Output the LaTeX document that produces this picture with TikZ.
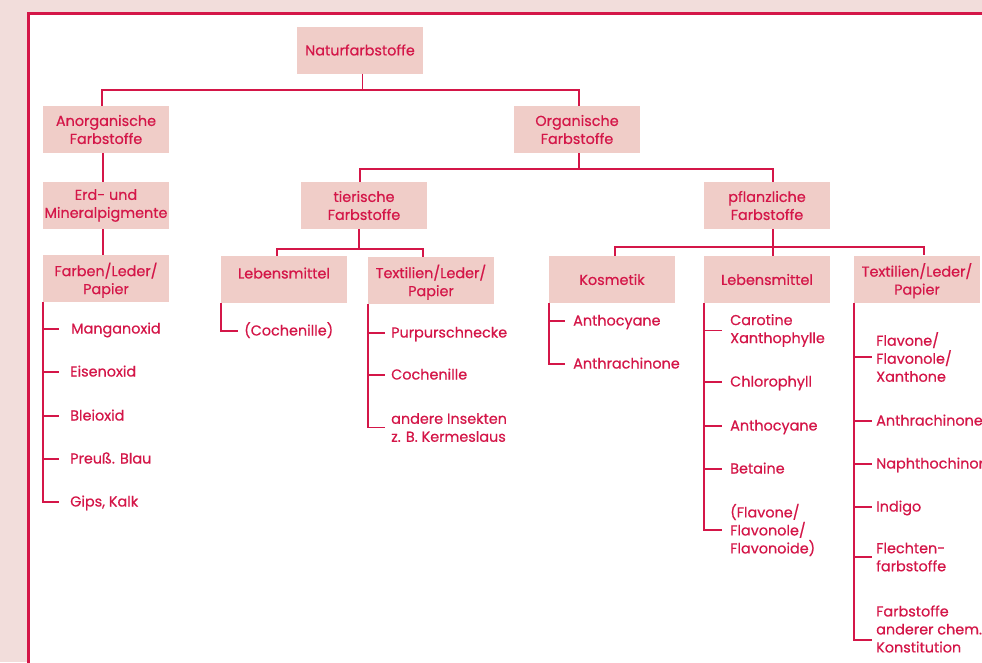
\documentclass[tikz,border=0pt]{standalone}
\usepackage{fontspec}
\setmainfont[FakeBold=0.5]{Poppins}
\definecolor{rd}{RGB}{212,22,72}
\definecolor{boxpink}{RGB}{240,205,200}
\definecolor{bgpink}{RGB}{242,221,219}
\newcommand{\hstrut}{\rule{0pt}{17pt}}
\begin{document}
\begin{tikzpicture}[x=1pt,y=-1pt,
  every node/.style={text=rd, font=\fontsize{14.4}{18}\selectfont, inner sep=0pt},
  box/.style={fill=boxpink, minimum width=126pt, minimum height=47pt, align=center},
  item/.style={anchor=west, text height=12pt, text depth=3pt},
  itemm/.style={anchor=west, align=left},
  ln/.style={draw=rd, line width=1.4pt}]
\useasboundingbox (0,0) rectangle (982,662);
\fill[bgpink] (0,0) rectangle (982,662);
\draw[rd, line width=2.6pt, fill=white] (28.5,13.2) rectangle (1000,680);
\begin{scope}
\clip (0,0) rectangle (982,662);
% boxes
\node[box] (natur) at (360,50) {Naturfarbstoffe};
\node[box] (anorg) at (106,129.5) {Anorganische\\Farbstoffe};
\node[box] (org) at (577,129.5) {Organische\\Farbstoffe};
\node[box] (erd) at (106,205.5) {Erd- und\\Mineralpigmente};
\node[box] (farben) at (106,278.5) {\hstrut Farben/Leder/\\Papier};
\node[box] (tier) at (364,205.5) {tierische\\Farbstoffe};
\node[box] (pfl) at (767,205.5) {pflanzliche\\Farbstoffe};
\node[box, text depth=13pt] (lebt) at (284,279.5) {Lebensmittel};
\node[box] (textt) at (431,280.5) {\hstrut Textilien/Leder/\\Papier};
\node[box] (kosm) at (612,279.5) {Kosmetik};
\node[box] (lebp) at (767,279.5) {Lebensmittel};
\node[box] (texp) at (917,279) {\hstrut Textilien/Leder/\\Papier};
% tree connectors
\draw[ln] ([xshift=2.5pt]natur.south) -- ++(0,17);
\draw[ln] ([xshift=-4pt]anorg.north) -- ++(0,-16) -| ([xshift=2pt]org.north);
\draw[ln] ([xshift=-3pt]anorg.south) -- ([xshift=-3pt]erd.north);
\draw[ln] ([xshift=-3pt]erd.south) -- ([xshift=-3pt]farben.north);
\draw[ln] ([xshift=2pt]org.south) -- ++(0,16);
\draw[ln] ([xshift=-4pt]tier.north) -- ++(0,-13) -| ([xshift=6pt]pfl.north);
\draw[ln] ([xshift=-5pt]tier.south) -- ++(0,20);
\draw[ln] ([xshift=-7pt]lebt.north) -- ++(0,-7) -| ([xshift=-8pt]textt.north);
\draw[ln] ([xshift=6pt]pfl.south) -- ++(0,18);
\draw[ln] ([xshift=3pt]kosm.north) -- ++(0,-9) -| ([xshift=7pt]texp.north);
\draw[ln] ([xshift=6pt]lebp.north) -- ++(0,-9);
% list: Farben/Leder/Papier
\node[item] (m1) at (71,329) {Manganoxid};
\node[item] (m2) at (70,372) {Eisenoxid};
\node[item] (m3) at (70,416) {Bleioxid};
\node[item] (m4) at (70,459) {Preuß. Blau};
\node[item] (m5) at (70,502) {Gips, Kalk};
\draw[ln] (farben.south west) |- ([xshift=-11pt]m5.west);
\foreach \i in {m2,m3,m4} \draw[ln] (farben.south west |- \i.west) -- ([xshift=-11pt]\i.west);
\draw[ln] (farben.south west |- m1.west) -- ([xshift=-12pt]m1.west);
% list: tierische Lebensmittel
\node[item] (c1) at (244,331) {(Cochenille)};
\draw[ln] (lebt.south west) |- ([xshift=-6pt]c1.west);
% list: tierische Textilien
\node[item] (p1) at (391,333) {Purpurschnecke};
\node[item] (p2) at (391,375) {Cochenille};
\node[itemm] (p3) at (391,427.5) {andere Insekten\\z. B. Kermeslaus};
\draw[ln] (textt.south west) |- ([xshift=-6pt]p3.west);
\foreach \i in {p1,p2} \draw[ln] (textt.south west |- \i.west) -- ([xshift=-6pt]\i.west);
% list: Kosmetik
\node[item] (k1) at (573,321) {Anthocyane};
\node[item] (k2) at (573,364) {Anthrachinone};
\draw[ln] (kosm.south west) |- ([xshift=-8pt]k2.west);
\draw[ln] (kosm.south west |- k1.west) -- ([xshift=-8pt]k1.west);
% list: pflanzliche Lebensmittel
\node[itemm] (l1) at (730,330.5) {Carotine\\Xanthophylle};
\node[item] (l2) at (730,382) {Chlorophyll};
\node[item] (l3) at (730,426) {Anthocyane};
\node[item] (l4) at (730,469) {Betaine};
\node[itemm] (l5) at (730,530) {(Flavone/\\Flavonole/\\Flavonoide)};
\draw[ln] (lebp.south west) |- ([xshift=-8pt]l5.west);
\foreach \i in {l1,l2,l3,l4} \draw[ln] (lebp.south west |- \i.west) -- ([xshift=-8pt]\i.west);
% list: pflanzliche Textilien
\node[itemm] (f1) at (876,357) {Flavone/\\Flavonole/\\Xanthone};
\node[item] (f2) at (876,421) {Anthrachinone};
\node[item] (f3) at (876,464) {Naphthochinone};
\node[item] (f4) at (876,507) {Indigo};
\node[itemm] (f5) at (876,557) {Flechten-\\farbstoffe};
\node[itemm] (f6) at (876,629) {Farbstoffe\\anderer chem.\\Konstitution};
\draw[ln] (texp.south west) |- ([xshift=-4pt,yshift=-11pt]f6.west);
\foreach \i in {f1,f2,f3,f4,f5} \draw[ln] (texp.south west |- \i.west) -- ([xshift=-4pt]\i.west);
\end{scope}
\end{tikzpicture}
\end{document}
